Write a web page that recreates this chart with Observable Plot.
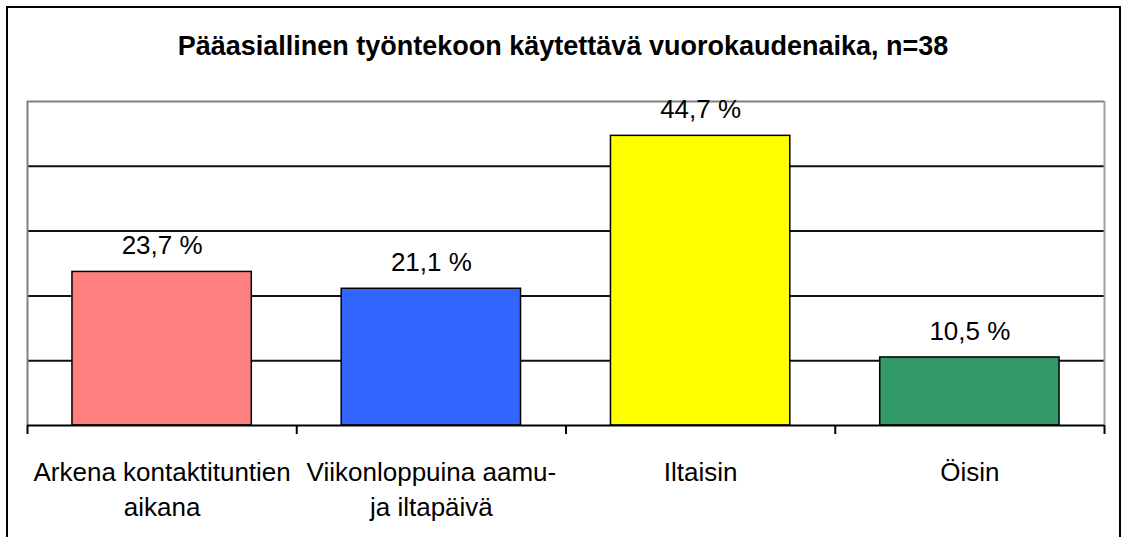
<!DOCTYPE html>
<html>
<head>
<meta charset="utf-8">
<script src="https://cdn.jsdelivr.net/npm/d3@7"></script>
<script src="https://cdn.jsdelivr.net/npm/@observablehq/plot@0.6"></script>
<style>
  html, body { margin: 0; padding: 0; background: #fff; }
  #wrap { position: relative; width: 1122px; height: 537px; overflow: hidden; }
  #border { position: absolute; left: 6px; top: 6px; width: 1111px; height: 600px; border: 2px solid #000; pointer-events: none; }
</style>
</head>
<body>
<div id="wrap"><div id="border"></div></div>
<script>
const title = "Pääasiallinen työntekoon käytettävä vuorokaudenaika, n=38";
const categories = ["Arkena kontaktituntien\naikana", "Viikonloppuina aamu-\nja iltapäivä", "Iltaisin", "Öisin"];
const values = [23.7, 21.1, 44.7, 10.5];
const colors = ["#FF8080", "#3366FF", "#FFFF00", "#339966"];
const gridValues = [10, 20, 30, 40];
const yDomain = [0, 50];

const idx = d3.range(categories.length);
const fmt = v => v.toFixed(1).replace(".", ",") + " %";
const font = "'Liberation Sans', Arial, sans-serif";

const chart = Plot.plot({
  width: 1122,
  height: 537,
  marginLeft: 27,
  marginRight: 18,
  marginTop: 101,
  marginBottom: 112,
  style: { fontFamily: font, background: "transparent", overflow: "visible" },
  x: { type: "linear", domain: [0, categories.length] },
  y: { domain: yDomain, axis: null },
  color: { type: "identity" },
  marks: [
    Plot.ruleY(gridValues, { stroke: "#111", strokeWidth: 2 }),
    Plot.ruleY([yDomain[1]], { stroke: "#808080", strokeWidth: 2 }),
    Plot.ruleX([0], { stroke: "#808080", strokeWidth: 2 }),
    Plot.ruleX([categories.length], { stroke: "#a0a0a0", strokeWidth: 2 }),
    Plot.rectY(idx, {
      x1: i => i + 0.167,
      x2: i => i + 0.833,
      y1: 0,
      y2: i => values[i],
      fill: i => colors[i],
      stroke: "#000",
      strokeWidth: 1.5
    }),
    Plot.ruleY([0], { stroke: "#000", strokeWidth: 2 }),
    Plot.axisX({
      ticks: d3.range(categories.length + 1),
      tickSize: 9,
      tickFormat: () => "",
      stroke: "#000",
      strokeWidth: 2
    }),
    Plot.text(idx, {
      x: i => i + 0.5,
      y: i => values[i],
      text: i => fmt(values[i]),
      dy: -26,
      lineAnchor: "middle",
      fontSize: 26,
      fill: "#000"
    }),
    Plot.text(idx, {
      x: i => i + 0.5,
      frameAnchor: "bottom",
      text: i => categories[i],
      lineAnchor: "top",
      dy: 30.5,
      lineHeight: 1.35,
      fontSize: 26,
      fill: "#000"
    }),
    Plot.text([title], {
      frameAnchor: "top",
      text: d => d,
      dy: -55.5,
      dx: -3,
      lineAnchor: "middle",
      fontSize: 27,
      fontWeight: "bold",
      fill: "#000"
    })
  ]
});
document.getElementById("wrap").prepend(chart);
</script>
</body>
</html>
